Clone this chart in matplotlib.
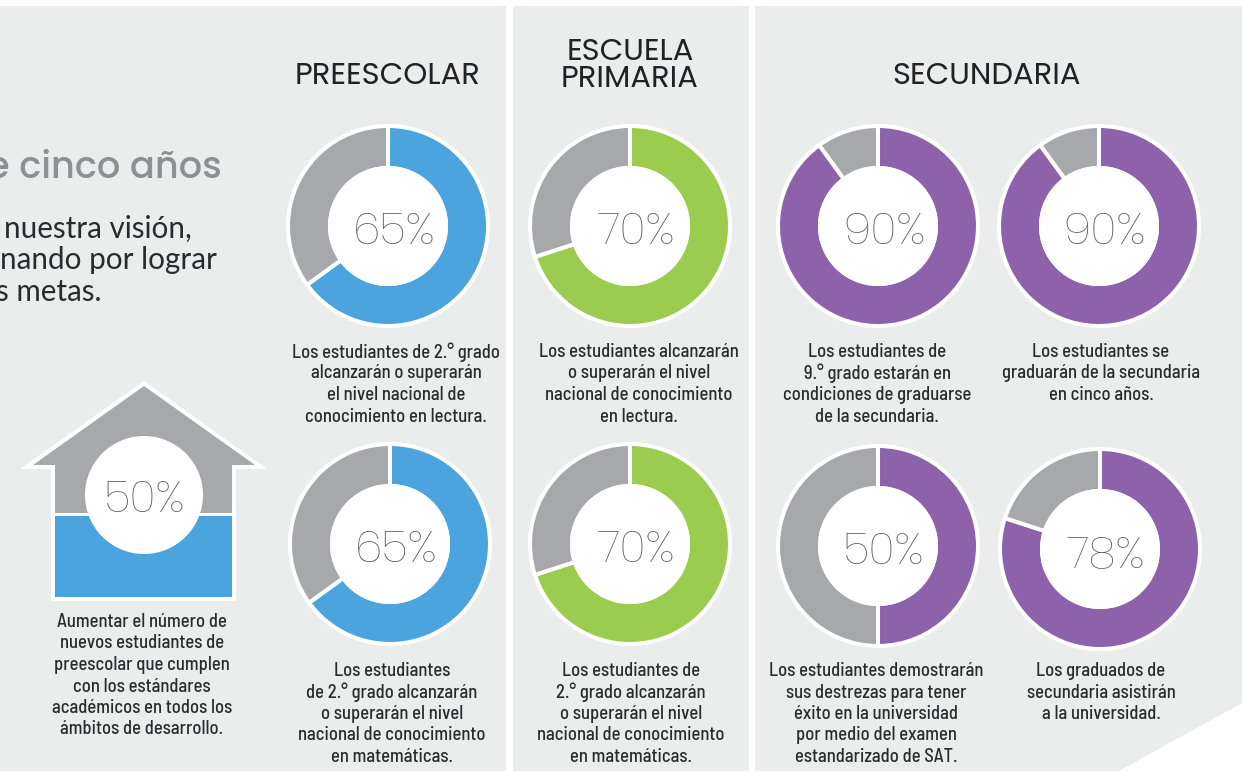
from matplotlib import font_manager as fm
from matplotlib import pyplot as plt
from matplotlib.patches import Circle, Polygon, Rectangle

W = 1242
H = 772

# donut charts: printed percent, share as drawn (the last ring is drawn a bit past its label)
donut_labels = [65, 65, 70, 70, 90, 90, 50, 78]
donut_values = [65, 65, 70, 70, 90, 90, 50, 80]
donut_colours = ['#4BA4DD', '#4BA4DD', '#9BCB4F', '#9BCB4F', '#8D62AA', '#8D62AA', '#8D62AA', '#8D62AA']
donut_x = [388, 390, 630, 630, 878, 1099, 878, 1100]
donut_y = [226, 544, 226, 544, 226, 226, 546, 549]
house_value = 50

section_titles = ['PREESCOLAR', 'ESCUELA\nPRIMARIA', 'SECUNDARIA']
section_x = [388, 630, 987]
section_y = [77, 66, 77]

captions = [
    ['Los estudiantes de 2.° grado', 'alcanzarán o superarán', 'el nivel nacional de', 'conocimiento en lectura.'],
    ['Los estudiantes', 'de 2.° grado alcanzarán', 'o superarán el nivel', 'nacional de conocimiento', 'en matemáticas.'],
    ['Los estudiantes alcanzarán', 'o superarán el nivel', 'nacional de conocimiento', 'en lectura.'],
    ['Los estudiantes de', '2.° grado alcanzarán', 'o superarán el nivel', 'nacional de conocimiento', 'en matemáticas.'],
    ['Los estudiantes de', '9.° grado estarán en', 'condiciones de graduarse', 'de la secundaria.'],
    ['Los estudiantes se', 'graduarán de la secundaria', 'en cinco años.'],
    ['Los estudiantes demostrarán', 'sus destrezas para tener', 'éxito en la universidad', 'por medio del examen', 'estandarizado de SAT.'],
    ['Los graduados de', 'secundaria asistirán', 'a la universidad.'],
]
caption_x = [396, 392, 639, 631, 877, 1101, 876, 1101]
caption_y = [352, 671, 352, 671, 352, 352, 671, 671]
house_caption = ['Aumentar el número de', 'nuevos estudiantes de', 'preescolar que cumplen',
                 'con los estándares', 'académicos en todos los', 'ámbitos de desarrollo.']

GREY_BG = '#EBECEC'
GREY_WEDGE = '#A7A8AB'
DARK = '#2B2B2D'
PCT = '#58595B'


def has_font(name):
    return name in set(f.name for f in fm.fontManager.ttflist)


# closer look-alikes where the machine has them, the listed families otherwise
if has_font('Barlow Semi Condensed'):
    NARROW, NARROW_SIZE = 'Barlow Semi Condensed', 13.4
else:
    NARROW, NARROW_SIZE = 'Roboto', 11.7
HEAD = 'Poppins' if has_font('Poppins') else 'Lato'


def py(y):
    # picture rows count from the top, the axes count from the bottom
    return H - y


fig = plt.figure(figsize=(W / 100, H / 100), dpi=100, facecolor='white')
ax = fig.add_axes([0, 0, 1, 1])

# panels
for x0, x1 in [(0, 506), (513, 749), (755, W)]:
    ax.add_patch(Rectangle((x0, py(771)), x1 - x0, 765, facecolor=GREY_BG, edgecolor='none', zorder=0))
ax.add_patch(Polygon([(1117, py(772)), (W, py(703)), (W, py(772))], facecolor='white', edgecolor='none', zorder=1))

# donuts
for i in range(len(donut_values)):
    v = donut_values[i]
    ax.pie([v, 100 - v], colors=[donut_colours[i], GREY_WEDGE], center=(donut_x[i], py(donut_y[i])),
           radius=100, startangle=90, counterclock=False, frame=False,
           wedgeprops=dict(width=42, edgecolor='white', linewidth=2.9))
    ax.add_patch(Circle((donut_x[i], py(donut_y[i])), 60, facecolor='white', edgecolor='none', zorder=3))
    ax.text(donut_x[i] + 6, py(donut_y[i] + 8), '%d%%' % donut_labels[i], ha='center', va='center', family=HEAD,
            weight='light', fontsize=32, color=PCT, zorder=4)

# house: white shape under the grey roof and the blue part
outline = [(144, 381), (20, 469), (51, 469), (51, 601), (236, 601), (236, 469), (267, 469)]
roof = [(144, 386), (33, 465), (55, 465), (55, 513), (232, 513), (232, 465), (255, 465)]
ax.add_patch(Polygon([(x, py(y)) for x, y in outline], closed=True, facecolor='white', edgecolor='none', zorder=2))
ax.add_patch(Polygon([(x, py(y)) for x, y in roof], closed=True, facecolor=GREY_WEDGE, edgecolor='none', zorder=2))
ax.add_patch(Rectangle((55, py(597)), 177, 81, facecolor='#4BA4DD', edgecolor='none', zorder=2))
ax.add_patch(Circle((144, py(495)), 59, facecolor='white', edgecolor='none', zorder=3))
ax.text(145, py(501), '%d%%' % house_value, ha='center', va='center', family=HEAD, weight='light',
        fontsize=32, color=PCT, zorder=4)

# titles
for t, x, y in zip(section_titles, section_x, section_y):
    ax.text(x, py(y), t, ha='center', va='center', family=HEAD, fontsize=22, color='#222224',
            linespacing=0.85, zorder=4)

# left text, cut off by the picture edge
ax.text(222, py(178), 'e cinco años', ha='right', va='baseline', family=HEAD, weight='medium', fontsize=26.5,
        color='#8E8F94', zorder=4)
for t, x, y in [('nuestra visión,', 192, 238), ('nando por lograr', 217, 269), ('s metas.', 102, 301)]:
    ax.text(x, py(y), t, ha='right', va='baseline', family='Lato', fontsize=21.3, color=DARK, zorder=4)

# captions
for lines, x, y in zip(captions, caption_x, caption_y):
    for j, line in enumerate(lines):
        ax.text(x, py(y + j * 21.5), line, ha='center', va='center', family=NARROW, weight='medium',
                fontsize=NARROW_SIZE, color=DARK, zorder=4)
for j, line in enumerate(house_caption):
    ax.text(142, py(622 + j * 21.5), line, ha='center', va='center', family=NARROW, weight='medium',
            fontsize=NARROW_SIZE, color=DARK, zorder=4)

ax.set_xlim(0, W)
ax.set_ylim(0, H)
ax.set_aspect('auto')
ax.axis('off')

fig.savefig('out.png', dpi=100, facecolor='white')
